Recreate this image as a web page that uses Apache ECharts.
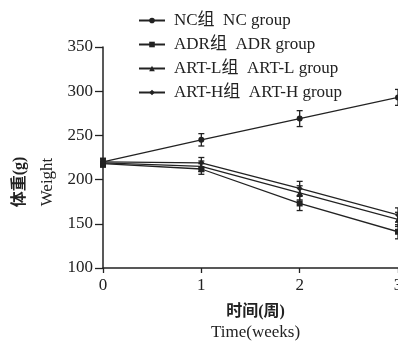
<!DOCTYPE html>
<html>
<head>
<meta charset="utf-8">
<script src="https://cdn.jsdelivr.net/npm/echarts@6/dist/echarts.min.js"></script>
<style>
  html, body { margin: 0; padding: 0; background: #fff; }
  #chart { width: 398px; height: 341px; }
</style>
</head>
<body>
<div id="chart"></div>
<script>
// weeks on the x axis
var weeks = [0, 1, 2, 3];
var yTicks = [100, 150, 200, 250, 300, 350];

// body weight (g), mean and sd per group
var ncMean = [220, 245, 269, 293];
var ncSd = [4, 7, 9, 9];
var adrMean = [218, 212, 173, 141];
var adrSd = [4, 6, 8, 8];
var artLMean = [219, 215, 185, 155];
var artLSd = [4, 6, 8, 8];
var artHMean = [220, 219, 190, 160];
var artHSd = [4, 6, 8, 8];

var groups = [
    { name: 'NC组  NC group', mean: ncMean, sd: ncSd, symbol: 'circle' },
    { name: 'ADR组  ADR group', mean: adrMean, sd: adrSd, symbol: 'rect' },
    { name: 'ART-L组  ART-L group', mean: artLMean, sd: artLSd, symbol: 'triangle' },
    { name: 'ART-H组  ART-H group', mean: artHMean, sd: artHSd, symbol: 'diamond' }
];

var ink = '#222';
var serif = '"Liberation Serif", "DejaVu Serif", "Noto Sans CJK SC", serif';

var myChart = echarts.init(document.getElementById('chart'));

function errorBars(mean, sd) {
    var data = [];
    for (var i = 0; i < weeks.length; i++) {
        data.push([weeks[i], mean[i] - sd[i], mean[i] + sd[i]]);
    }
    return data;
}

function renderBar(params, api) {
    var lo = api.coord([api.value(0), api.value(1)]);
    var hi = api.coord([api.value(0), api.value(2)]);
    var w = 3;
    var style = { stroke: ink, lineWidth: 1.3 };
    return {
        type: 'group',
        children: [
            { type: 'line', shape: { x1: lo[0], y1: lo[1], x2: hi[0], y2: hi[1] }, style: style },
            { type: 'line', shape: { x1: lo[0] - w, y1: lo[1], x2: lo[0] + w, y2: lo[1] }, style: style },
            { type: 'line', shape: { x1: hi[0] - w, y1: hi[1], x2: hi[0] + w, y2: hi[1] }, style: style }
        ]
    };
}

var series = [];
groups.forEach(function (g) {
    var pts = [];
    for (var i = 0; i < weeks.length; i++) pts.push([weeks[i], g.mean[i]]);
    series.push({
        name: g.name,
        type: 'line',
        data: pts,
        symbol: g.symbol,
        symbolSize: 6,
        clip: false,
        lineStyle: { color: ink, width: 1.3 },
        itemStyle: { color: ink },
        z: 3
    });
    series.push({
        type: 'custom',
        data: errorBars(g.mean, g.sd),
        renderItem: renderBar,
        clip: false,
        z: 2
    });
});

var option = {
    animation: false,
    backgroundColor: '#fff',
    grid: { left: 103, right: 0, top: 47, bottom: 73, containLabel: false, outerBoundsMode: 'none' },
    legend: {
        orient: 'vertical',
        left: 138,
        top: 12,
        padding: 0,
        itemWidth: 26,
        itemHeight: 7,
        itemGap: 7,
        data: groups.map(function (g) { return g.name; }),
        textStyle: { color: ink, fontSize: 17, fontFamily: serif, padding: [0, 0, 0, 4] }
    },
    xAxis: {
        type: 'value',
        min: 0,
        max: 3,
        interval: 1,
        name: '{cn|时间(周)}\n{en|Time(weeks)}',
        nameLocation: 'middle',
        nameGap: 33,
        nameTextStyle: {
            padding: [0, 0, 0, 10],
            rich: {
                cn: { fontSize: 16, fontWeight: 'bold', fontFamily: serif, color: ink, lineHeight: 21 },
                en: { fontSize: 17, fontFamily: serif, color: ink, lineHeight: 21 }
            }
        },
        axisLine: { lineStyle: { color: ink, width: 1.5 } },
        axisTick: { length: 5, lineStyle: { color: ink, width: 1.3 } },
        axisLabel: { color: ink, fontSize: 17, fontFamily: serif, margin: 9 },
        splitLine: { show: false }
    },
    yAxis: {
        type: 'value',
        min: yTicks[0],
        max: yTicks[yTicks.length - 1],
        interval: 50,
        axisLine: { show: true, lineStyle: { color: ink, width: 1.5 } },
        axisTick: { show: true, length: 8, lineStyle: { color: ink, width: 1.3 } },
        axisLabel: { color: ink, fontSize: 17, fontFamily: serif, margin: 10 },
        splitLine: { show: false }
    },
    graphic: [{
        type: 'text',
        x: 34,
        y: 182,
        rotation: Math.PI / 2,
        style: {
            text: '{cn|体重(g)}\n{en|Weight}',
            align: 'center',
            verticalAlign: 'middle',
            rich: {
                cn: { fontSize: 16, fontWeight: 'bold', fontFamily: serif, fill: ink, lineHeight: 28 },
                en: { fontSize: 17, fontFamily: serif, fill: ink, lineHeight: 28 }
            }
        }
    }],
    series: series
};

myChart.setOption(option);
</script>
</body>
</html>
